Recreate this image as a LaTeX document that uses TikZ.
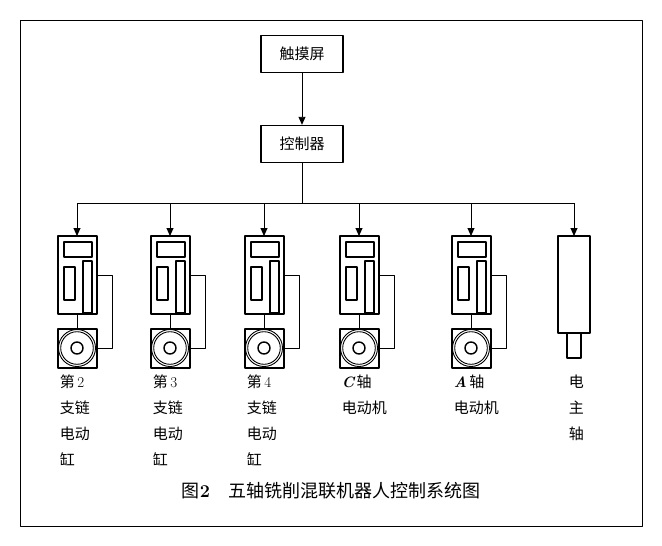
\documentclass[tikz,border=0pt]{standalone}
\usepackage{fontspec}
\newfontfamily\cjk{Noto Sans CJK SC}
\usetikzlibrary{positioning,arrows.meta}
\begin{document}
\begin{tikzpicture}[
				x=1pt,y=-1pt,
				line join=round,
				line width=0.9pt,
				box/.style={draw,line width=1.4pt,minimum width=82pt,minimum height=37pt,font=\cjk\fontsize{15}{15}\selectfont},
				lbl/.style={anchor=north west,align=left,font=\cjk\fontsize{15}{26}\selectfont},
				arr/.style={-{Triangle[length=8pt,width=7pt]}},
				part/.style={draw,line width=1.4pt}
			]
			\useasboundingbox (0,0) rectangle (662,546);
			% Frame
			\draw (20,20) rectangle (642,526);

			% Top boxes
			\node[box] (touch) at (302,54) {触摸屏};
			\node[box] (ctrl) at (302,144) {控制器};
			\draw[arr] (touch) -- (ctrl);
			\coordinate (bus) at (302,203);
			\draw (ctrl) -- (bus);
			\draw (77,203) -- (574,203);

			% Drives with motors
			\foreach \cx/\name in {77/d1,170/d2,264/d3,359/d4,471/d5}{
				\draw[arr] (\cx,203) -- (\cx,236);
				\draw[part] (\cx-19,236) rectangle (\cx+20,314);
				\draw[part] (\cx-13,242) rectangle (\cx+15,257);
				\draw[part] (\cx-13,267) rectangle (\cx-2,300);
				\draw[part] (\cx+6,261) rectangle (\cx+15,313);
				\draw (\cx,314) -- (\cx,329);
				\draw[part] (\cx-19,329) rectangle (\cx+20,368);
				\draw (\cx,348) circle (18.5) circle (16.3);
				\draw[line width=1.4pt] (\cx,348) circle (6);
				\draw (\cx+20,275) -- (\cx+35,275) -- (\cx+35,348) -- (\cx+20,348);
			}

			% Spindle
			\draw[arr] (574,203) -- (574,236);
			\draw[part] (558,236) rectangle (590,333);
			\draw[part] (567,333) rectangle (581,358);

			% Labels
			\node[lbl] (l1) at (56,371) {第\,{\rmfamily 2}\\支链\\电动\\缸};
			\node[lbl] (l2) at (149,371) {第\,{\rmfamily 3}\\支链\\电动\\缸};
			\node[lbl] (l3) at (243,371) {第\,{\rmfamily 4}\\支链\\电动\\缸};
			\node[lbl] (l4) at (338,371) {{\rmfamily\bfseries\itshape C}\,轴\\电动机};
			\node[lbl] (l5) at (450,371) {{\rmfamily\bfseries\itshape A}\,轴\\电动机};
			\node[lbl] (l6) at (565,371) {电\\主\\轴};

			% Caption
			\node[font=\cjk\fontsize{18}{18}\selectfont] (cap) at (331,491) {图{\rmfamily\bfseries 2}\quad 五轴铣削混联机器人控制系统图};
		\end{tikzpicture}
\end{document}
